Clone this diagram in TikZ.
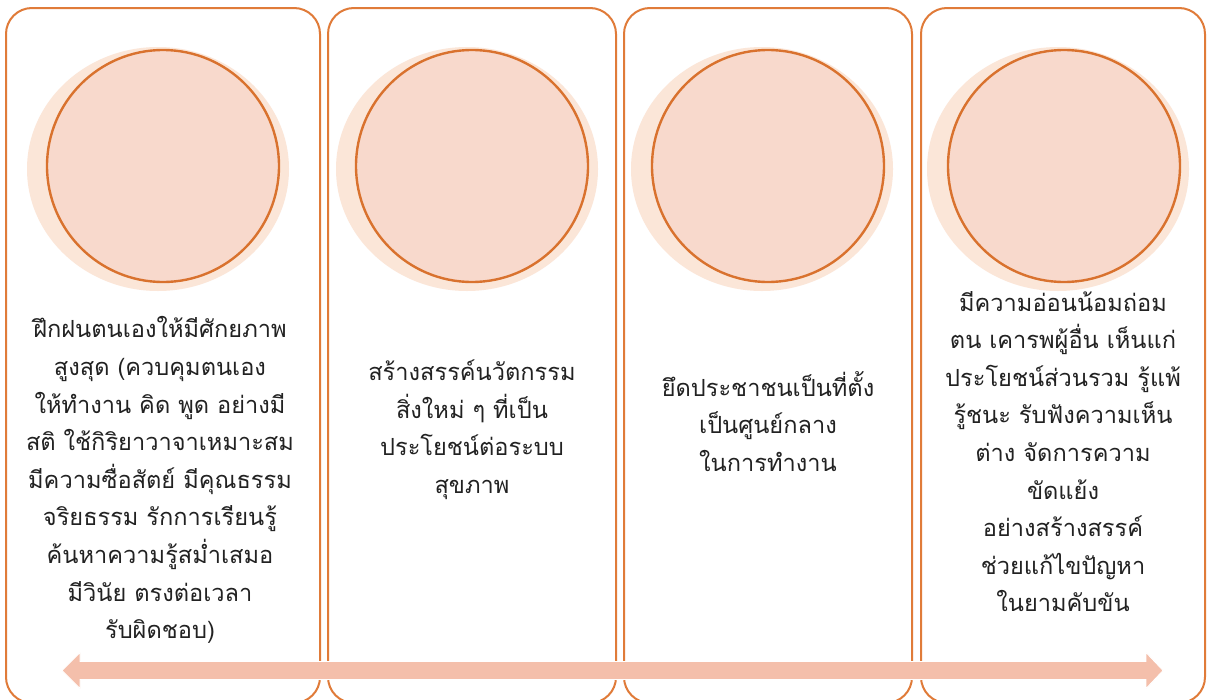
\documentclass[tikz,border=0pt]{standalone}
\usepackage{fontspec}
\newfontfamily\thaifont[Script=Thai]{Loma}
\usetikzlibrary{shapes.geometric}
\definecolor{boxline}{HTML}{E07B39}
\definecolor{ringline}{HTML}{D9722E}
\definecolor{discfill}{HTML}{F8D9CC}
\definecolor{halofill}{HTML}{FBE6D8}
\definecolor{arrowfill}{HTML}{F4BFAB}
\definecolor{txt}{HTML}{222222}
\tikzset{
  panel/.style={draw=boxline, line width=2pt, rounded corners=26pt, rectangle, inner sep=0pt},
  halo/.style={ellipse, fill=halofill, draw=none, minimum width=262pt, minimum height=244pt, inner sep=0pt},
  disc/.style={circle, fill=discfill, draw=ringline, line width=2.4pt, minimum size=232pt, inner sep=0pt},
  label/.style={align=center, text=txt, font=\thaifont\fontsize{23.6}{37.6}\selectfont, inner sep=0pt},
}
\begin{document}
\begin{tikzpicture}[x=1pt,y=-1pt]
\useasboundingbox (0,0) rectangle (1207,699);
\clip (0,0) rectangle (1207,699);
\fill[white] (0,0) rectangle (1207,699);
% panels
\node[panel, minimum width=314pt, minimum height=695pt] (b1) at (163,355.5) {};
\node[panel, minimum width=288pt, minimum height=695pt] (b2) at (472,355.5) {};
\node[panel, minimum width=288pt, minimum height=695pt] (b3) at (768,355.5) {};
\node[panel, minimum width=284pt, minimum height=695pt] (b4) at (1063,355.5) {};
% halos and discs
\node[halo] (h1) at (158,169) {};
\node[halo] (h2) at (467,169) {};
\node[halo] (h3) at (762,169) {};
\node[halo] (h4) at (1058,169) {};
\node[disc] (c1) at (163,166) {};
\node[disc] (c2) at (472,166) {};
\node[disc] (c3) at (768,166) {};
\node[disc] (c4) at (1064,166) {};
% texts
\node[label, anchor=north] (t1) at (160,316.5) {ฝึกฝนตนเองให้มีศักยภาพ\\สูงสุด (ควบคุมตนเอง\\ให้ทำงาน คิด พูด อย่างมี\\สติ ใช้กิริยาวาจาเหมาะสม\\มีความซื่อสัตย์ มีคุณธรรม\\จริยธรรม รักการเรียนรู้\\ค้นหาความรู้สม่ำเสมอ\\มีวินัย ตรงต่อเวลา\\รับผิดชอบ)};
\node[label, anchor=north] (t2) at (472,359.8) {สร้างสรรค์นวัตกรรม\\สิ่งใหม่ ๆ ที่เป็น\\ประโยชน์ต่อระบบ\\สุขภาพ};
\node[label, anchor=north] (t3) at (768,371) {ยึดประชาชนเป็นที่ตั้ง\\เป็นศูนย์กลาง\\ในการทำงาน};
\node[label, anchor=north] (t4) at (1063,290.8) {มีความอ่อนน้อมถ่อม\\ตน เคารพผู้อื่น เห็นแก่\\ประโยชน์ส่วนรวม รู้แพ้\\รู้ชนะ รับฟังความเห็น\\ต่าง จัดการความ\\ขัดแย้ง\\อย่างสร้างสรรค์\\ช่วยแก้ไขปัญหา\\ในยามคับขัน};
% double arrow
\coordinate (aL) at (62,670.5);
\coordinate (aR) at (1163,670.5);
\fill[arrowfill, draw=white, line width=0.8pt]
  (aL) -- (80,652.5) -- (80,661.5) -- (1146,661.5) -- (1146,652.5) -- (aR)
  -- (1146,688.5) -- (1146,679.5) -- (80,679.5) -- (80,688.5) -- cycle;
\end{tikzpicture}
\end{document}
